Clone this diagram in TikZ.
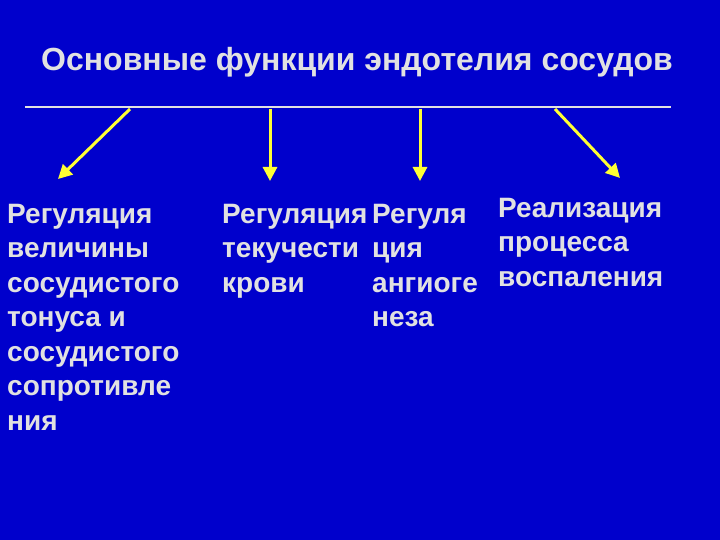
\documentclass[tikz,border=0pt]{standalone}
\usepackage{fontspec}
\setmainfont{Liberation Sans}
\usetikzlibrary{arrows.meta}
\definecolor{bg}{RGB}{0,0,204}
\definecolor{txt}{RGB}{225,225,225}
\definecolor{ylw}{RGB}{255,255,51}
\tikzset{
 lbl/.style={anchor=north west,align=left,text=txt,inner sep=0pt,font=\fontsize{28}{34.5}\selectfont\bfseries},
 arr/.style={draw=ylw,line width=3pt,-{Triangle[length=14pt,width=14pt]}},
 bar/.style={draw=txt,line width=2.5pt}
}
\begin{document}
\begin{tikzpicture}[x=1pt,y=-1pt]
\fill[bg] (0,0) rectangle (720,540);
\useasboundingbox (0,0) rectangle (720,540);
\node[text=txt,font=\fontsize{32}{36}\selectfont\bfseries] (title) at (357,62) {Основные функции эндотелия сосудов};
\coordinate (l) at (25,107); \coordinate (r) at (671,107);
\draw[bar] (l) -- (r);
\coordinate (s1) at (130,109); \coordinate (e1) at (58,179);
\coordinate (s2) at (270,109); \coordinate (e2) at (270,181);
\coordinate (s3) at (420,109); \coordinate (e3) at (420,181);
\coordinate (s4) at (555,109); \coordinate (e4) at (620,178);
\draw[arr] (s1) -- (e1);
\draw[arr] (s2) -- (e2);
\draw[arr] (s3) -- (e3);
\draw[arr] (s4) -- (e4);
\node[lbl] (a) at (7,204) {Регуляция\\величины\\сосудистого\\тонуса и\\сосудистого\\сопротивле\\ния};
\node[lbl] (b) at (222,204) {Регуляция\\текучести\\крови};
\node[lbl] (c) at (372,204) {Регуля\\ция\\ангиоге\\неза};
\node[lbl] (d) at (498,198) {Реализация\\процесса\\воспаления};
\end{tikzpicture}
\end{document}
